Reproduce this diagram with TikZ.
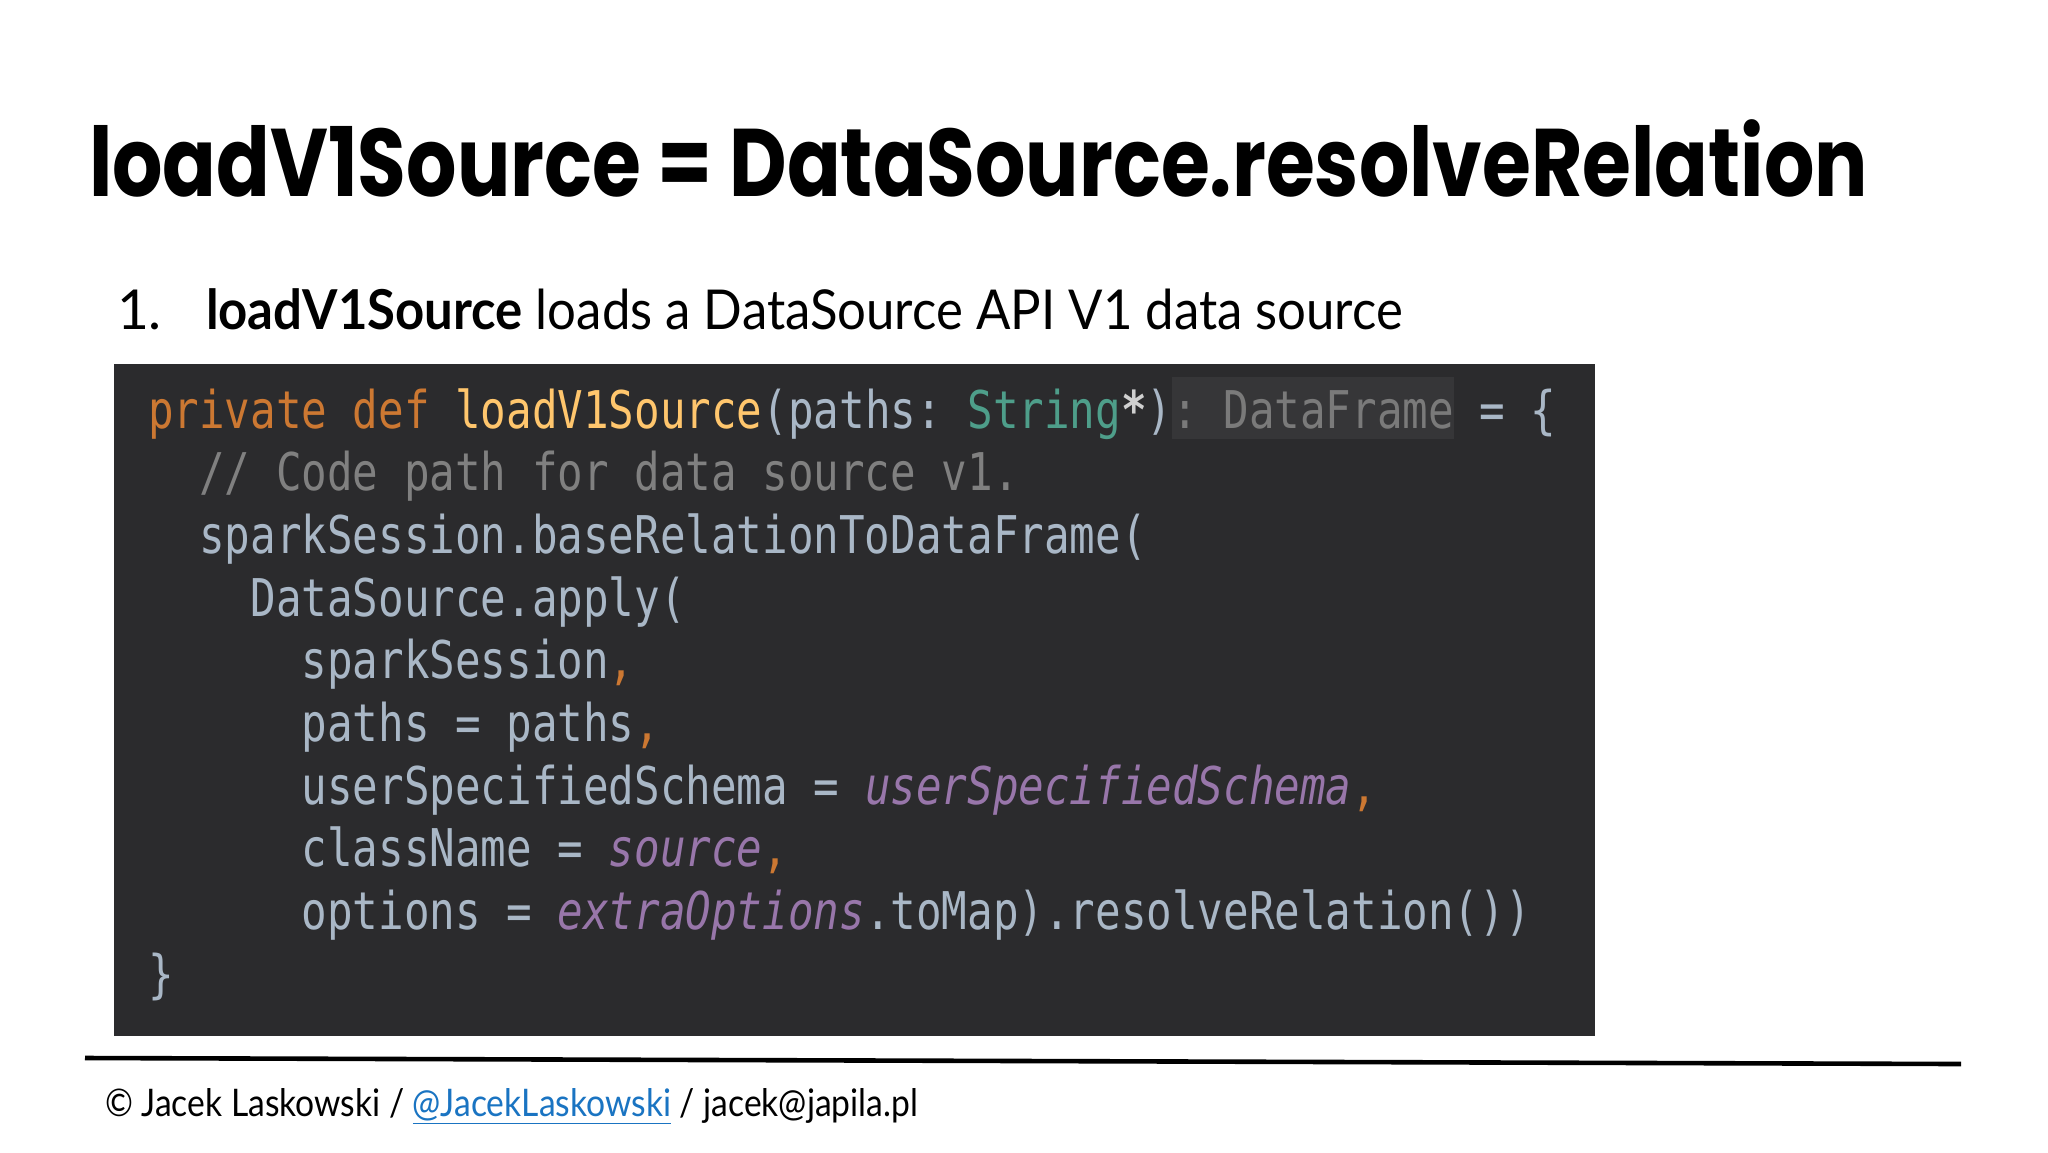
\documentclass[tikz,border=0pt]{standalone}
\usepackage{fontspec}
\usepackage{graphicx}
\setmainfont{Lato}
\newfontfamily\titlefont{Poppins}
\newfontfamily\codefont{DejaVu Sans Mono}[FakeStretch=0.818]
\definecolor{codebg}{HTML}{2B2B2D}
\definecolor{hintbg}{HTML}{363638}
\definecolor{kwc}{HTML}{CC7832}
\definecolor{fnc}{HTML}{FFC66D}
\definecolor{plc}{HTML}{A9B7C6}
\definecolor{tyc}{HTML}{4E9E8A}
\definecolor{cmc}{HTML}{808080}
\definecolor{puc}{HTML}{9876AA}
\definecolor{hintc}{HTML}{7A7A7A}
\definecolor{starc}{HTML}{D0D0D0}
\definecolor{linkc}{HTML}{1A74C2}
\newsavebox\fitbox
\newlength\fitlen
\newcommand\fitto[2]{\sbox\fitbox{#2}\setlength\fitlen{\wd\fitbox}\pgfmathsetmacro\fitr{(#1)/\fitlen}\scalebox{\fitr}[1]{\usebox\fitbox}}
\newcommand\kw[1]{\textcolor{kwc}{#1}}
\newcommand\fn[1]{\textcolor{fnc}{#1}}
\newcommand\ty[1]{\textcolor{tyc}{#1}}
\newcommand\cm[1]{\textcolor{cmc}{#1}}
\newcommand\pu[1]{\textcolor{puc}{\itshape #1}}
\newcommand\hint[1]{\textcolor{hintc}{#1}}
\newcommand\codestar{\textcolor{starc}{\bfseries *}}
\frenchspacing
\begin{document}
\begin{tikzpicture}[x=0.5pt,y=-0.5pt,
  txt/.style={anchor=base west,inner sep=0pt,outer sep=0pt},
  codeline/.style={txt,font=\codefont\fontsize{26}{30}\selectfont,text=plc}]
\useasboundingbox (0,0) rectangle (2048,1152);
\fill[white] (0,0) rectangle (2048,1152);
% title
\node[txt,font=\titlefont\bfseries\fontsize{48}{56}\selectfont] (title) at (89,196)
  {\fitto{889.5pt}{loadV1Source = DataSource.resolveRelation}};
% bullet
\node[txt,font=\fontsize{27.5}{32}\selectfont] (num) at (117,329) {1.};
\node[txt,font=\fontsize{27.5}{32}\selectfont] (bullet) at (206,329)
  {\fitto{598.5pt}{\textbf{loadV1Source} loads a DataSource API V1 data source}};
% code box
\fill[codebg] (114,364) rectangle (1595,1036);
\node[inner sep=0pt,outer sep=0pt,fill=hintbg,minimum width=141pt,minimum height=31pt,anchor=north west] (hintbox) at (1172,377) {};
\node[codeline] (c1) at (148,428) {\kw{private def }\fn{loadV1Source}(paths: \ty{String}\codestar)\hint{: DataFrame} = \{};
\node[codeline] (c2) at (199.2,490.7) {\cm{// Code path for data source v1.}};
\node[codeline] (c3) at (199.2,553.4) {sparkSession.baseRelationToDataFrame(};
\node[codeline] (c4) at (250.4,616.1) {DataSource.apply(};
\node[codeline] (c5) at (301.6,678.8) {sparkSession\kw{,}};
\node[codeline] (c6) at (301.6,741.5) {paths = paths\kw{,}};
\node[codeline] (c7) at (301.6,804.2) {userSpecifiedSchema = \pu{userSpecifiedSchema}\kw{,}};
\node[codeline] (c8) at (301.6,866.9) {className = \pu{source}\kw{,}};
\node[codeline] (c9) at (301.6,929.6) {options = \pu{extraOptions}.toMap).resolveRelation())};
\node[codeline] (c10) at (148,992.3) {\}};
% footer rule
\coordinate (ruleL) at (85,1058);
\coordinate (ruleR) at (1961,1064);
\draw[line width=2.3pt] (ruleL) -- (ruleR);
% footer text
\node[txt,font=\fontsize{19}{22}\selectfont] (footer) at (105,1116)
  {\fitto{406.5pt}{\textcopyright{} Jacek Laskowski / {\color{linkc}\underline{@JacekLaskowski}} / jacek@japila.pl}};
\end{tikzpicture}
\end{document}
